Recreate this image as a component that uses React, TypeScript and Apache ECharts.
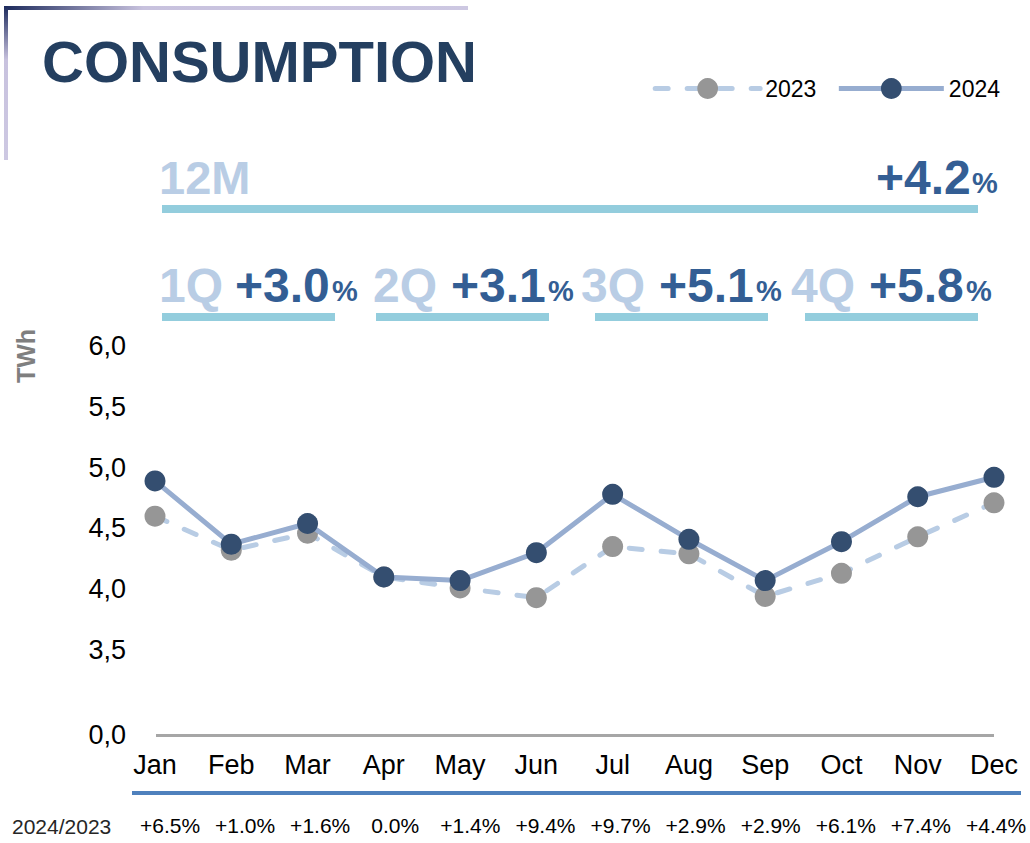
import React, { useEffect, useRef } from "react";
import * as echarts from "echarts";

const months = ["Jan", "Feb", "Mar", "Apr", "May", "Jun", "Jul", "Aug", "Sep", "Oct", "Nov", "Dec"];
const values2023 = [4.6, 4.32, 4.46, 4.1, 4.01, 3.93, 4.35, 4.29, 3.94, 4.13, 4.43, 4.71];
const values2024 = [4.89, 4.37, 4.54, 4.1, 4.07, 4.3, 4.78, 4.41, 4.07, 4.39, 4.76, 4.92];
const growthLabels = ["+6.5%", "+1.0%", "+1.6%", "0.0%", "+1.4%", "+9.4%", "+9.7%", "+2.9%", "+2.9%", "+6.1%", "+7.4%", "+4.4%"];
const periodNames = ["1Q", "2Q", "3Q", "4Q"];
const periodGrowth = ["+3.0", "+3.1", "+5.1", "+5.8"];
const yearGrowth = "+4.2";
const yTickLabels = [3.5, 4.0, 4.5, 5.0, 5.5, 6.0];

const FONT = "'Liberation Sans', Arial, sans-serif";
const LIGHT = "#b9cde5";
const DARK = "#335e94";
const TEAL = "#93cddd";

export default function App() {
  const ref = useRef<HTMLDivElement>(null);
  useEffect(() => {
    if (!ref.current) return;
    const chart = echarts.init(ref.current, null, { renderer: "svg" });

    const qX = [159, 373, 581, 791];
    const qNumX = [235, 451, 659, 869];
    const qPctX = [332, 548, 756, 966];
    const qLineX = [162, 376, 595, 805];

    const graphics: any[] = [
      {
        type: "rect",
        shape: { x: 4, y: 6, width: 464, height: 4 },
        style: {
          fill: new echarts.graphic.LinearGradient(0, 0, 1, 0, [
            { offset: 0, color: "#1c2a5c" },
            { offset: 0.3, color: "#c8c2de" },
            { offset: 1, color: "#cdc8e2" },
          ]),
        },
      },
      {
        type: "rect",
        shape: { x: 4, y: 6, width: 4, height: 154 },
        style: {
          fill: new echarts.graphic.LinearGradient(0, 0, 0, 1, [
            { offset: 0, color: "#1c2a5c" },
            { offset: 0.35, color: "#c8c2de" },
            { offset: 1, color: "#cdc8e2" },
          ]),
        },
      },
      {
        type: "text",
        x: 42,
        y: 61,
        style: { text: "CONSUMPTION", font: `bold 58px ${FONT}`, fill: "#243f60", verticalAlign: "middle", align: "left" },
      },
      {
        type: "text",
        x: 159,
        y: 177,
        style: { text: "12M", font: `bold 47px ${FONT}`, fill: LIGHT, verticalAlign: "middle" },
      },
      {
        type: "text",
        x: 876,
        y: 177,
        style: { text: yearGrowth, font: `bold 48px ${FONT}`, fill: DARK, verticalAlign: "middle" },
      },
      {
        type: "text",
        x: 972,
        y: 183,
        style: { text: "%", font: `bold 29px ${FONT}`, fill: DARK, verticalAlign: "middle" },
      },
      { type: "rect", shape: { x: 162, y: 205, width: 816, height: 8 }, style: { fill: TEAL } },
      {
        type: "text",
        x: 26,
        y: 356,
        rotation: Math.PI / 2,
        style: { text: "TWh", font: `bold 25px ${FONT}`, fill: "#7f7f7f", align: "center", verticalAlign: "middle" },
      },
      { type: "rect", shape: { x: 132, y: 791, width: 889, height: 4 }, style: { fill: "#4f81bd" } },
      {
        type: "text",
        x: 12,
        y: 826,
        style: { text: "2024/2023", font: `21px ${FONT}`, fill: "#262626", verticalAlign: "middle" },
      },
      {
        type: "rect",
        shape: { x: 156, y: 734, width: 838, height: 3 },
        style: { fill: "#a6a6a6" },
        z: -1,
      },
    ];
    periodNames.forEach((p, i) => {
      graphics.push({
        type: "text",
        x: qX[i],
        y: 285,
        style: { text: p, font: `bold 48px ${FONT}`, fill: LIGHT, verticalAlign: "middle" },
      });
      graphics.push({
        type: "text",
        x: qNumX[i],
        y: 285,
        style: { text: periodGrowth[i], font: `bold 48px ${FONT}`, fill: DARK, verticalAlign: "middle" },
      });
      graphics.push({
        type: "text",
        x: qPctX[i],
        y: 291,
        style: { text: "%", font: `bold 29px ${FONT}`, fill: DARK, verticalAlign: "middle" },
      });
      graphics.push({
        type: "rect",
        shape: { x: qLineX[i], y: 313, width: 173, height: 8 },
        style: { fill: TEAL },
      });
    });

    chart.setOption({
      animation: false,
      textStyle: { fontFamily: FONT },
      legend: {
        right: 25,
        top: 72,
        itemWidth: 105,
        itemHeight: 26,
        itemGap: 20,
        lineStyle: { width: 5 },
        textStyle: { fontSize: 23, color: "#000", fontFamily: FONT },
        data: ["2023", "2024"],
      },
      grid: [
        { left: 155, right: 36, top: 346, bottom: 108 },
        { left: 170, right: 34, top: 800, height: 10 },
      ],
      xAxis: [
        {
          type: "category",
          data: months,
          boundaryGap: false,
          axisLine: { show: false },
          axisTick: { show: false },
          axisLabel: { fontSize: 27, color: "#000", margin: 16, interval: 0, fontFamily: FONT },
        },
        {
          type: "category",
          gridIndex: 1,
          data: growthLabels,
          boundaryGap: false,
          axisLine: { show: false },
          axisTick: { show: false },
          axisLabel: { fontSize: 21, color: "#000", margin: 5, interval: 0, fontFamily: FONT },
        },
      ],
      yAxis: [
        {
          type: "value",
          min: 2.8,
          max: 6.0,
          interval: 0.1,
          splitLine: { show: false },
          axisLine: { show: false },
          axisTick: { show: false },
          axisLabel: {
            fontSize: 27,
            color: "#000",
            margin: 29,
            fontFamily: FONT,
            formatter: (v: number) => {
              const r = Math.round(v * 10) / 10;
              if (Math.abs(r - 2.8) < 1e-6) return "0,0";
              if (yTickLabels.some((t) => Math.abs(t - r) < 1e-6)) return r.toFixed(1).replace(".", ",");
              return "";
            },
          },
        },
        { type: "value", gridIndex: 1, show: false },
      ],
      series: [
        {
          name: "2023",
          type: "line",
          data: values2023,
          symbol: "circle",
          symbolSize: 21,
          itemStyle: { color: "#969696" },
          lineStyle: { color: "#b8cce4", width: 5, type: [13, 19], cap: "round" },
          z: 2,
        },
        {
          name: "2024",
          type: "line",
          data: values2024,
          symbol: "circle",
          symbolSize: 21,
          itemStyle: { color: "#344e70" },
          lineStyle: { color: "#97add0", width: 5 },
          z: 3,
        },
      ],
      graphic: graphics,
    });
    return () => chart.dispose();
  }, []);
  return <div ref={ref} style={{ position: "fixed", left: 0, top: 0, width: 1030, height: 843, background: "#fff" }} />;
}
